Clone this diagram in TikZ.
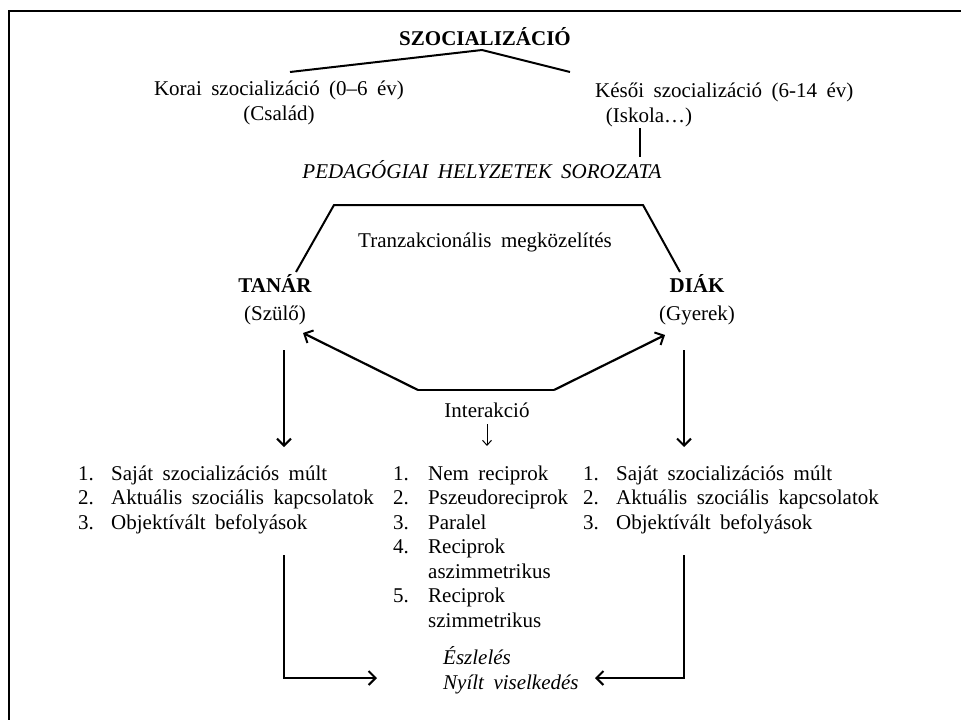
\documentclass[tikz,border=0pt]{standalone}
\usepackage{fontspec}
\setmainfont{Liberation Serif}[WordSpace=1.8]
\usetikzlibrary{arrows.meta}
\begin{document}
\begin{tikzpicture}[x=1pt,y=-1pt,
  txt/.style={inner sep=0pt, font=\fontsize{21}{24.5}\selectfont},
  bld/.style={inner sep=0pt, font=\fontsize{21}{24.5}\selectfont\bfseries},
  itx/.style={inner sep=0pt, font=\fontsize{21}{24.5}\selectfont\itshape},
  ln/.style={line width=2pt},
  frame/.style={line width=2pt},
  arr/.style={line width=2.2pt, -{Straight Barb[length=7pt,width=14pt,line width=2pt]}},
  sarr/.style={line width=1pt, -{Straight Barb[length=5pt,width=9pt,line width=1pt]}},
]
\useasboundingbox (0,0) rectangle (961,720);
\draw[frame] (961,11) -- (9,11) -- (9,720);

% top
\node[bld, anchor=base] (soc) at (485,45) {SZOCIALIZÁCIÓ};
\coordinate (apex) at (482,50);
\coordinate (kl) at (290,72);
\coordinate (kr) at (570,72);
\draw[ln] (kl) -- (apex) -- (kr);
\node[txt, anchor=base] (korai) at (279,95) {Korai szocializáció (0–6 év)};
\node[txt, anchor=base] (csalad) at (279,120) {(Család)};
\node[txt, anchor=base west] (kesoi) at (595,97) {Késői szocializáció (6-14 év)};
\node[txt, anchor=base] (iskola) at (649,122) {(Iskola\ldots)};
\coordinate (v1) at (640,128);
\coordinate (v2) at (640,157);
\draw[ln] (v1) -- (v2);
\node[itx, anchor=base] (ped) at (482,178) {PEDAGÓGIAI HELYZETEK SOROZATA};

% hexagon
\coordinate (hb1) at (296,272);
\coordinate (ht1) at (334,205);
\coordinate (ht2) at (643,205);
\coordinate (hb2) at (680,272);
\draw[ln] (hb1) -- (ht1) -- (ht2) -- (hb2);
\node[txt, anchor=base] (tranz) at (485,247) {Tranzakcionális megközelítés};

\node[bld, anchor=base] (tanar) at (275,292) {TANÁR};
\node[txt, anchor=base] (szulo) at (275,320) {(Szülő)};
\node[bld, anchor=base] (diak) at (697,292) {DIÁK};
\node[txt, anchor=base] (gyerek) at (697,320) {(Gyerek)};

% interaction
\coordinate (il) at (418,390);
\coordinate (ir) at (554,390);
\coordinate (ta) at (303,333);
\coordinate (da) at (665,335);
\draw[ln] (il) -- (ir);
\draw[arr] (il) -- (ta);
\draw[arr] (ir) -- (da);
\node[txt, anchor=base] (inter) at (487,417) {Interakció};
\coordinate (s1) at (487,424);
\coordinate (s2) at (487,446);
\draw[sarr] (s1) -- (s2);

% big down arrows
\coordinate (la1) at (284,350);
\coordinate (la2) at (284,447);
\coordinate (ra1) at (684,350);
\coordinate (ra2) at (684,447);
\draw[arr] (la1) -- (la2);
\draw[arr] (ra1) -- (ra2);

% left list
\node[txt, anchor=base west] (l1) at (78,480) {\makebox[33pt][l]{1.}Saját szocializációs múlt};
\node[txt, anchor=base west] (l2) at (78,504.5) {\makebox[33pt][l]{2.}Aktuális szociális kapcsolatok};
\node[txt, anchor=base west] (l3) at (78,529) {\makebox[33pt][l]{3.}Objektívált befolyások};
% middle list
\node[txt, anchor=base west] (m1) at (393,480) {\makebox[35pt][l]{1.}Nem reciprok};
\node[txt, anchor=base west] (m2) at (393,504.5) {\makebox[35pt][l]{2.}Pszeudoreciprok};
\node[txt, anchor=base west] (m3) at (393,529) {\makebox[35pt][l]{3.}Paralel};
\node[txt, anchor=base west] (m4) at (393,553.5) {\makebox[35pt][l]{4.}Reciprok};
\node[txt, anchor=base west] (m4b) at (393,578) {\hspace*{35pt}aszimmetrikus};
\node[txt, anchor=base west] (m5) at (393,602.5) {\makebox[35pt][l]{5.}Reciprok};
\node[txt, anchor=base west] (m5b) at (393,627) {\hspace*{35pt}szimmetrikus};
% right list
\node[txt, anchor=base west] (r1) at (583,480) {\makebox[33pt][l]{1.}Saját szocializációs múlt};
\node[txt, anchor=base west] (r2) at (583,504.5) {\makebox[33pt][l]{2.}Aktuális szociális kapcsolatok};
\node[txt, anchor=base west] (r3) at (583,529) {\makebox[33pt][l]{3.}Objektívált befolyások};

% bottom
\coordinate (lb1) at (284,555);
\coordinate (lb2) at (284,678);
\coordinate (lb3) at (377,678);
\coordinate (rb1) at (684,555);
\coordinate (rb2) at (684,678);
\coordinate (rb3) at (595,678);
\draw[arr] (lb1) -- (lb2) -- (lb3);
\draw[arr] (rb1) -- (rb2) -- (rb3);
\node[itx, anchor=base west] (esz) at (443,664) {Észlelés};
\node[itx, anchor=base west] (nyilt) at (443,689) {Nyílt viselkedés};
\end{tikzpicture}
\end{document}
